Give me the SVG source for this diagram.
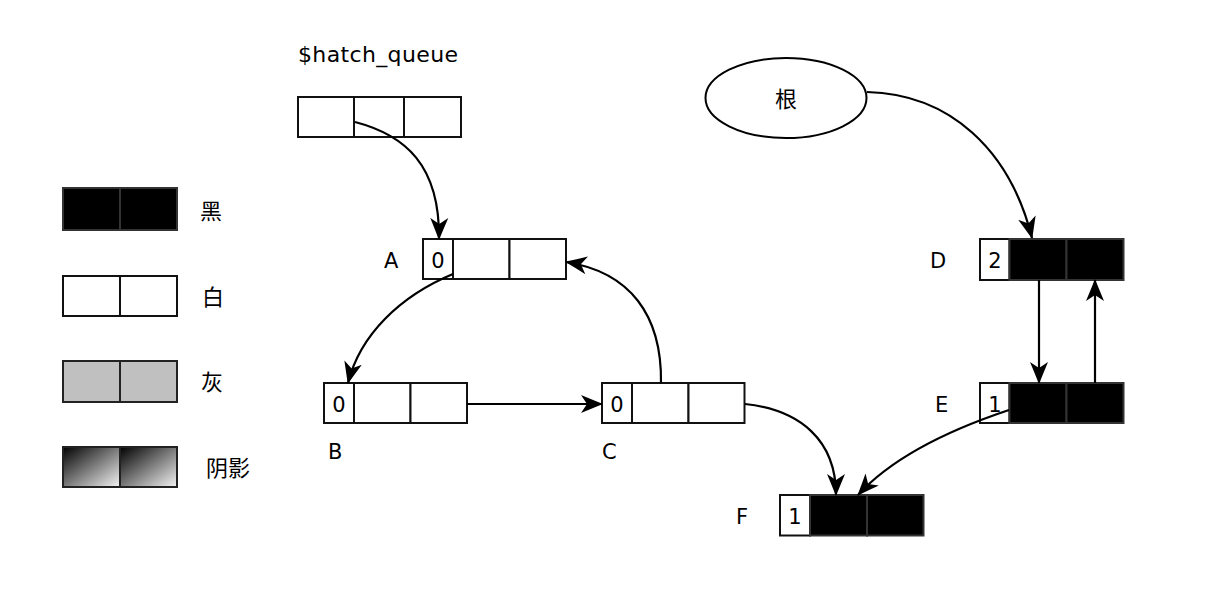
<svg xmlns="http://www.w3.org/2000/svg" width="1208" height="590" viewBox="0 0 1208 590">
<style>
  .t { font-family: "DejaVu Sans", "Noto Sans CJK SC", sans-serif; font-size: 21px; fill: #000; }
  .c { font-family: "Noto Sans CJK SC", "DejaVu Sans", sans-serif; font-size: 22px; fill: #000; }
  .w { fill: #fff; stroke: #111; stroke-width: 2; }
  .b { fill: #000; stroke: #333; stroke-width: 2; }
  .g { fill: #c0c0c0; stroke: #222; stroke-width: 2; }
  .s { fill: url(#shade); stroke: #222; stroke-width: 2; }
  .e { fill: none; stroke: #000; stroke-width: 2.2; marker-end: url(#arr); }
</style>
<defs>
  <linearGradient id="shade" x1="0" y1="0" x2="1" y2="1">
    <stop offset="0" stop-color="#000"/>
    <stop offset="1" stop-color="#f4f4f4"/>
  </linearGradient>
  <marker id="arr" markerUnits="userSpaceOnUse" markerWidth="24" markerHeight="22" refX="21" refY="10" orient="auto" viewBox="0 0 24 22">
    <path d="M0,1 Q12,6 22,10 Q12,14 0,19 L6,10 z" fill="#000"/>
  </marker>
</defs>
<rect width="1208" height="590" fill="#fff"/>

<g id="legend">
  <rect class="b" x="63" y="188" width="57" height="42"/>
  <rect class="b" x="120" y="188" width="57" height="42"/>
  <text class="c" x="200" y="219">黑</text>
  <rect class="w" x="63" y="276" width="57" height="40"/>
  <rect class="w" x="120" y="276" width="57" height="40"/>
  <text class="c" x="202" y="305">白</text>
  <rect class="g" x="63" y="361" width="57" height="41"/>
  <rect class="g" x="120" y="361" width="57" height="41"/>
  <text class="c" x="201" y="390">灰</text>
  <rect class="s" x="63" y="447" width="57" height="40"/>
  <rect class="s" x="120" y="447" width="57" height="40"/>
  <text class="c" x="206" y="476">阴影</text>
</g>

<g id="hatch_queue">
  <text class="t" x="298" y="62" textLength="160" style="font-size:22px">$hatch_queue</text>
  <rect class="w" x="298" y="97" width="56" height="40"/>
  <rect class="w" x="354" y="97" width="50" height="40"/>
  <rect class="w" x="404" y="97" width="57" height="40"/>
</g>

<g id="root">
  <ellipse cx="786" cy="98" rx="80.5" ry="40" fill="#fff" stroke="#000" stroke-width="2"/>
  <text class="c" x="786" y="107" text-anchor="middle">根</text>
</g>

<g id="A">
  <text class="t" x="384" y="268">A</text>
  <rect class="w" x="423" y="239" width="30" height="40"/>
  <rect class="w" x="453" y="239" width="56.5" height="40"/>
  <rect class="w" x="509.5" y="239" width="56.5" height="40"/>
  <text class="t" x="438" y="268" text-anchor="middle">0</text>
</g>

<g id="B">
  <text class="t" x="328" y="459">B</text>
  <rect class="w" x="324" y="383" width="30" height="40"/>
  <rect class="w" x="354" y="383" width="56.5" height="40"/>
  <rect class="w" x="410.5" y="383" width="56.5" height="40"/>
  <text class="t" x="339" y="412" text-anchor="middle">0</text>
</g>

<g id="C">
  <text class="t" x="602" y="459">C</text>
  <rect class="w" x="602" y="383" width="30" height="40"/>
  <rect class="w" x="632" y="383" width="56.5" height="40"/>
  <rect class="w" x="688.5" y="383" width="56" height="40"/>
  <text class="t" x="617" y="412" text-anchor="middle">0</text>
</g>

<g id="D">
  <text class="t" x="930" y="268">D</text>
  <rect class="w" x="980" y="239" width="29.5" height="41"/>
  <rect class="b" x="1009.5" y="239" width="57" height="41"/>
  <rect class="b" x="1066.5" y="239" width="57" height="41"/>
  <text class="t" x="995" y="268" text-anchor="middle">2</text>
</g>

<g id="E">
  <text class="t" x="935" y="412">E</text>
  <rect class="w" x="980" y="383" width="29.5" height="40"/>
  <rect class="b" x="1009.5" y="383" width="57" height="40"/>
  <rect class="b" x="1066.5" y="383" width="57" height="40"/>
  <text class="t" x="995" y="412" text-anchor="middle">1</text>
</g>

<g id="F">
  <text class="t" x="736" y="524">F</text>
  <rect class="w" x="780" y="495" width="30" height="40.5"/>
  <rect class="b" x="810" y="495" width="57" height="40.5"/>
  <rect class="b" x="867" y="495" width="56.5" height="40.5"/>
  <text class="t" x="795" y="524" text-anchor="middle">1</text>
</g>

<g id="connectors">
  <path class="e" d="M355,122 C405,135 440,165 439,239"/>
  <path class="e" d="M453,274 C400,296 360,335 348,383"/>
  <path class="e" d="M661,383 C662,315 630,272 566,262"/>
  <path class="e" d="M467,404 L602,404"/>
  <path class="e" d="M745,404 C800,410 836,440 836,495"/>
  <path class="e" d="M1009,410 C940,433 890,460 858,495"/>
  <path class="e" d="M867,92 C950,94 1010,150 1032,238"/>
  <path class="e" d="M1039,280 L1039,383"/>
  <path class="e" d="M1095,383 L1095,280"/>
</g>
</svg>
